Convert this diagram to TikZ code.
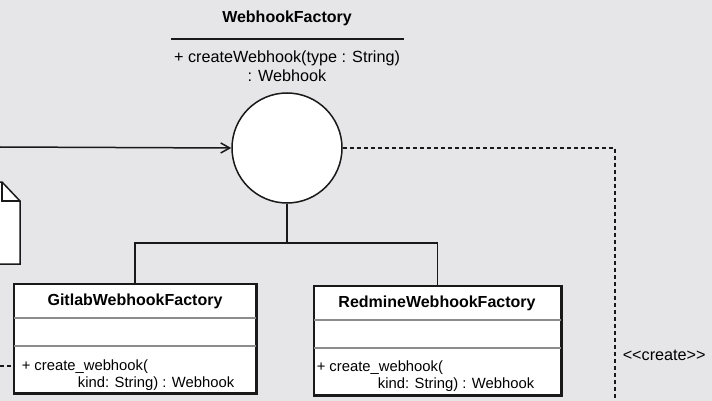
\documentclass[tikz,border=0pt]{standalone}
\usepackage{fontspec}
\setmainfont{Liberation Sans}
\usetikzlibrary{arrows.meta}
\definecolor{bg}{RGB}{230,230,232}
\definecolor{ln}{RGB}{25,25,25}
\definecolor{dv}{RGB}{140,140,140}
\begin{document}
\begin{tikzpicture}[x=1pt,y=-1pt,
  line width=1.5pt, draw=ln,
  title/.style={font=\fontsize{16}{19}\selectfont\bfseries, inner sep=0pt},
  txt/.style={font=\fontsize{16.2}{19}\selectfont, inner sep=0pt},
  mtxt/.style={font=\fontsize{14.8}{18}\selectfont, inner sep=0pt},
  classbox/.style={draw=ln, fill=white, rectangle, inner sep=0pt},
  dashline/.style={dash pattern=on 4pt off 3pt, line width=1.3pt},
  divider/.style={draw=dv, line width=1.1pt}]
\useasboundingbox (0,0) rectangle (712,401);
\fill[bg] (0,0) rectangle (712,401);

% interface header
\node[title] (wfname) at (287,18) {WebhookFactory};
\draw[line width=1.4pt] (171,39) -- (404,39);
\node[txt] (wfm1) at (287,58) {+ createWebhook(type : String)};
\node[txt] (wfm2) at (287,76) {: Webhook};

% interface circle
\node[draw=ln, fill=white, circle, minimum size=110pt, inner sep=0pt] (wf) at (287,148) {};

% incoming arrow
\coordinate (lin) at (0,147);
\draw[-{Straight Barb[length=9pt,width=10pt]}] (lin) -- (wf.west);

% dependency (create)
\coordinate (dbot) at (615,401);
\draw[dashline] (wf.east) -| (dbot);
\node[txt, anchor=west] (crt) at (622,355) {<{}<create>{}>};

% note on left edge
\fill[white] (-5,182) -- (2,182) -- (20,201) -- (20,264) -- (-5,264) -- cycle;
\draw (-5,182) -- (2,182) -- (20,201) -- (20,264) -- (-5,264);
\draw (2,182) -- (2,201) -- (20,201);

% class boxes
\node[classbox, minimum width=242pt, minimum height=109pt] (gl) at (135,338.5) {};
\node[classbox, minimum width=247pt, minimum height=109pt] (rm) at (437.5,340.5) {};
\draw[divider] (gl.west |- 0,318) -- (gl.east |- 0,318);
\draw[divider] (gl.west |- 0,346) -- (gl.east |- 0,346);
\draw[divider] (rm.west |- 0,320) -- (rm.east |- 0,320);
\draw[divider] (rm.west |- 0,348) -- (rm.east |- 0,348);
\draw (gl.south west) rectangle (gl.north east);
\draw (rm.south west) rectangle (rm.north east);

\node[title] (gltitle) at (135,301) {GitlabWebhookFactory};
\node[mtxt, anchor=west] (glm1) at (21,367) {+ create\_webhook(};
\node[mtxt, anchor=east] (glm2) at (235,384) {kind: String) : Webhook};

\node[title] (rmtitle) at (437,303) {RedmineWebhookFactory};
\node[mtxt, anchor=west] (rmm1) at (316,368) {+ create\_webhook(};
\node[mtxt, anchor=east] (rmm2) at (535,385) {kind: String) : Webhook};

% realization tree
\coordinate (j) at (287,243);
\draw (wf.south) -- (j);
\draw (gl.north) |- (j) -| (rm.north);

% incoming dashed on gitlab
\coordinate (gin) at (0,366);
\draw[dashline] (gin) -- (gl.west |- gin);
\end{tikzpicture}
\end{document}
